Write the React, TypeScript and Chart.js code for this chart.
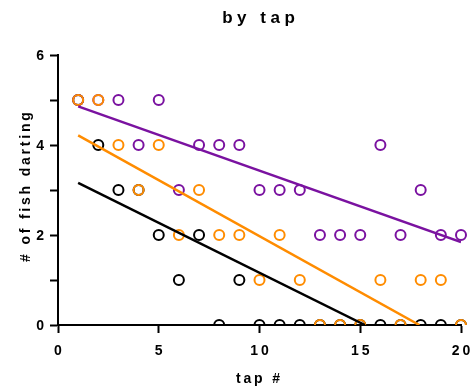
import React, { useEffect, useRef } from "react";
import { Chart, registerables } from "chart.js";

Chart.register(...registerables);

const taps = [1, 2, 3, 4, 5, 6, 7, 8, 9, 10, 11, 12, 13, 14, 15, 16, 17, 18, 19, 20];
const purpleCounts = [5, 5, 5, 4, 5, 3, 4, 4, 4, 3, 3, 3, 2, 2, 2, 4, 2, 3, 2, 2];
const orangeCounts = [5, 5, 4, 3, 4, 2, 3, 2, 2, 1, 2, 1, 0, 0, 0, 1, 0, 1, 1, 0];
const blackCounts = [5, 4, 3, 3, 2, 1, 2, 0, 1, 0, 0, 0, 0, 0, 0, 0, 0, 0, 0, 0];
const xTickLabels = [0, 5, 10, 15, 20];
const yTickLabels = [0, 2, 4, 6];

const PURPLE = "#7a12a0";
const ORANGE = "#ff8c00";
const BLACK = "#000000";
const FONT = "'Liberation Sans', Arial, sans-serif";

function regressionLine(xs: number[], ys: number[]) {
  const n = xs.length;
  const mx = xs.reduce((a, b) => a + b, 0) / n;
  const my = ys.reduce((a, b) => a + b, 0) / n;
  let sxy = 0;
  let sxx = 0;
  for (let i = 0; i < n; i++) {
    sxy += (xs[i] - mx) * (ys[i] - my);
    sxx += (xs[i] - mx) * (xs[i] - mx);
  }
  const slope = sxy / sxx;
  const icpt = my - slope * mx;
  const x0 = Math.min(...xs);
  let x1 = Math.max(...xs);
  if (slope < 0) {
    const root = -icpt / slope;
    if (root < x1) x1 = root;
  }
  return [
    { x: x0, y: icpt + slope * x0 },
    { x: x1, y: icpt + slope * x1 },
  ];
}

function pts(ys: number[]) {
  return taps.map((t, i) => ({ x: t, y: ys[i] }));
}

function drawSpaced(
  ctx: CanvasRenderingContext2D,
  text: string,
  x: number,
  y: number,
  font: string,
  ls: number,
  align: "left" | "center" | "right"
) {
  ctx.save();
  ctx.font = font;
  (ctx as any).letterSpacing = ls + "px";
  ctx.textAlign = "left";
  ctx.textBaseline = "alphabetic";
  ctx.fillStyle = "#000";
  const w = ctx.measureText(text).width - ls;
  const sx = align === "center" ? x - w / 2 : align === "right" ? x - w : x;
  ctx.fillText(text, sx, y);
  ctx.restore();
}

const textPlugin = {
  id: "textPlugin",
  afterDraw(chart: any) {
    const ctx: CanvasRenderingContext2D = chart.ctx;
    const xs = chart.scales.x;
    const ys = chart.scales.y;
    const ca = chart.chartArea;
    drawSpaced(ctx, "by tap", (ca.left + ca.right) / 2 - 1, 23, `bold 17px ${FONT}`, 4.5, "center");
    xTickLabels.forEach((v) => {
      drawSpaced(ctx, String(v), xs.getPixelForValue(v), 355, `bold 14px ${FONT}`, 3, "center");
    });
    yTickLabels.forEach((v) => {
      drawSpaced(ctx, String(v), 44, ys.getPixelForValue(v) + 5, `bold 14px ${FONT}`, 3, "right");
    });
    drawSpaced(ctx, "tap #", 258, 383, `bold 14px ${FONT}`, 2.8, "center");
    ctx.save();
    ctx.translate(30, 187);
    ctx.rotate(-Math.PI / 2);
    drawSpaced(ctx, "# of fish darting", 0, 0, `bold 14px ${FONT}`, 2.8, "center");
    ctx.restore();
  },
};

export default function App() {
  const ref = useRef<HTMLCanvasElement | null>(null);

  useEffect(() => {
    document.body.style.margin = "0";
    const canvas = ref.current;
    if (!canvas) return;

    const scatterCommon = {
      type: "scatter" as const,
      showLine: false,
      pointRadius: 5,
      pointHoverRadius: 5,
      pointBorderWidth: 2,
      pointBackgroundColor: "rgba(0,0,0,0)",
      backgroundColor: "rgba(0,0,0,0)",
      clip: { left: 10, top: 10, right: 10, bottom: 0 } as any,
    };
    const lineCommon = {
      type: "line" as const,
      pointRadius: 0,
      borderWidth: 2.5,
      fill: false,
      tension: 0,
      clip: { left: 10, top: 10, right: 0, bottom: 0 } as any,
    };

    const chart = new Chart(canvas, {
      type: "scatter",
      data: {
        datasets: [
          { ...lineCommon, label: "orange fit", data: regressionLine(taps, orangeCounts), borderColor: ORANGE },
          { ...lineCommon, label: "purple fit", data: regressionLine(taps, purpleCounts), borderColor: PURPLE },
          { ...lineCommon, label: "black fit", data: regressionLine(taps, blackCounts), borderColor: BLACK },
          { ...scatterCommon, label: "orange", data: pts(orangeCounts), borderColor: ORANGE, pointBorderColor: ORANGE },
          { ...scatterCommon, label: "purple", data: pts(purpleCounts), borderColor: PURPLE, pointBorderColor: PURPLE },
          { ...scatterCommon, label: "black", data: pts(blackCounts), borderColor: BLACK, pointBorderColor: BLACK },
        ] as any,
      },
      options: {
        animation: false,
        responsive: false,
        maintainAspectRatio: false,
        layout: { padding: { left: 0, top: 55, right: 11, bottom: 0 } },
        plugins: {
          legend: { display: false },
          title: { display: false },
          tooltip: { enabled: false },
        },
        events: [],
        scales: {
          x: {
            type: "linear",
            min: 0,
            max: 20,
            ticks: { display: false, stepSize: 5 },
            grid: {
              display: true,
              drawOnChartArea: false,
              drawTicks: true,
              tickLength: 8,
              tickWidth: 2,
              tickColor: "#000",
            },
            border: { display: true, color: "#000", width: 2 },
            afterFit: (s: any) => {
              s.height = 66;
              s.paddingLeft = 0;
              s.paddingRight = 0;
            },
          },
          y: {
            type: "linear",
            min: 0,
            max: 6,
            ticks: { display: false, stepSize: 1 },
            grid: {
              display: true,
              drawOnChartArea: false,
              drawTicks: true,
              tickLength: 8,
              tickWidth: 2,
              tickColor: "#000",
            },
            border: { display: true, color: "#000", width: 2 },
            afterFit: (s: any) => {
              s.width = 58;
              s.paddingTop = 0;
              s.paddingBottom = 0;
            },
          },
        },
      } as any,
      plugins: [textPlugin],
    });

    return () => chart.destroy();
  }, []);

  return (
    <div style={{ width: 472, height: 391 }}>
      <canvas ref={ref} width={472} height={391} style={{ width: 472, height: 391, display: "block" }} />
    </div>
  );
}
